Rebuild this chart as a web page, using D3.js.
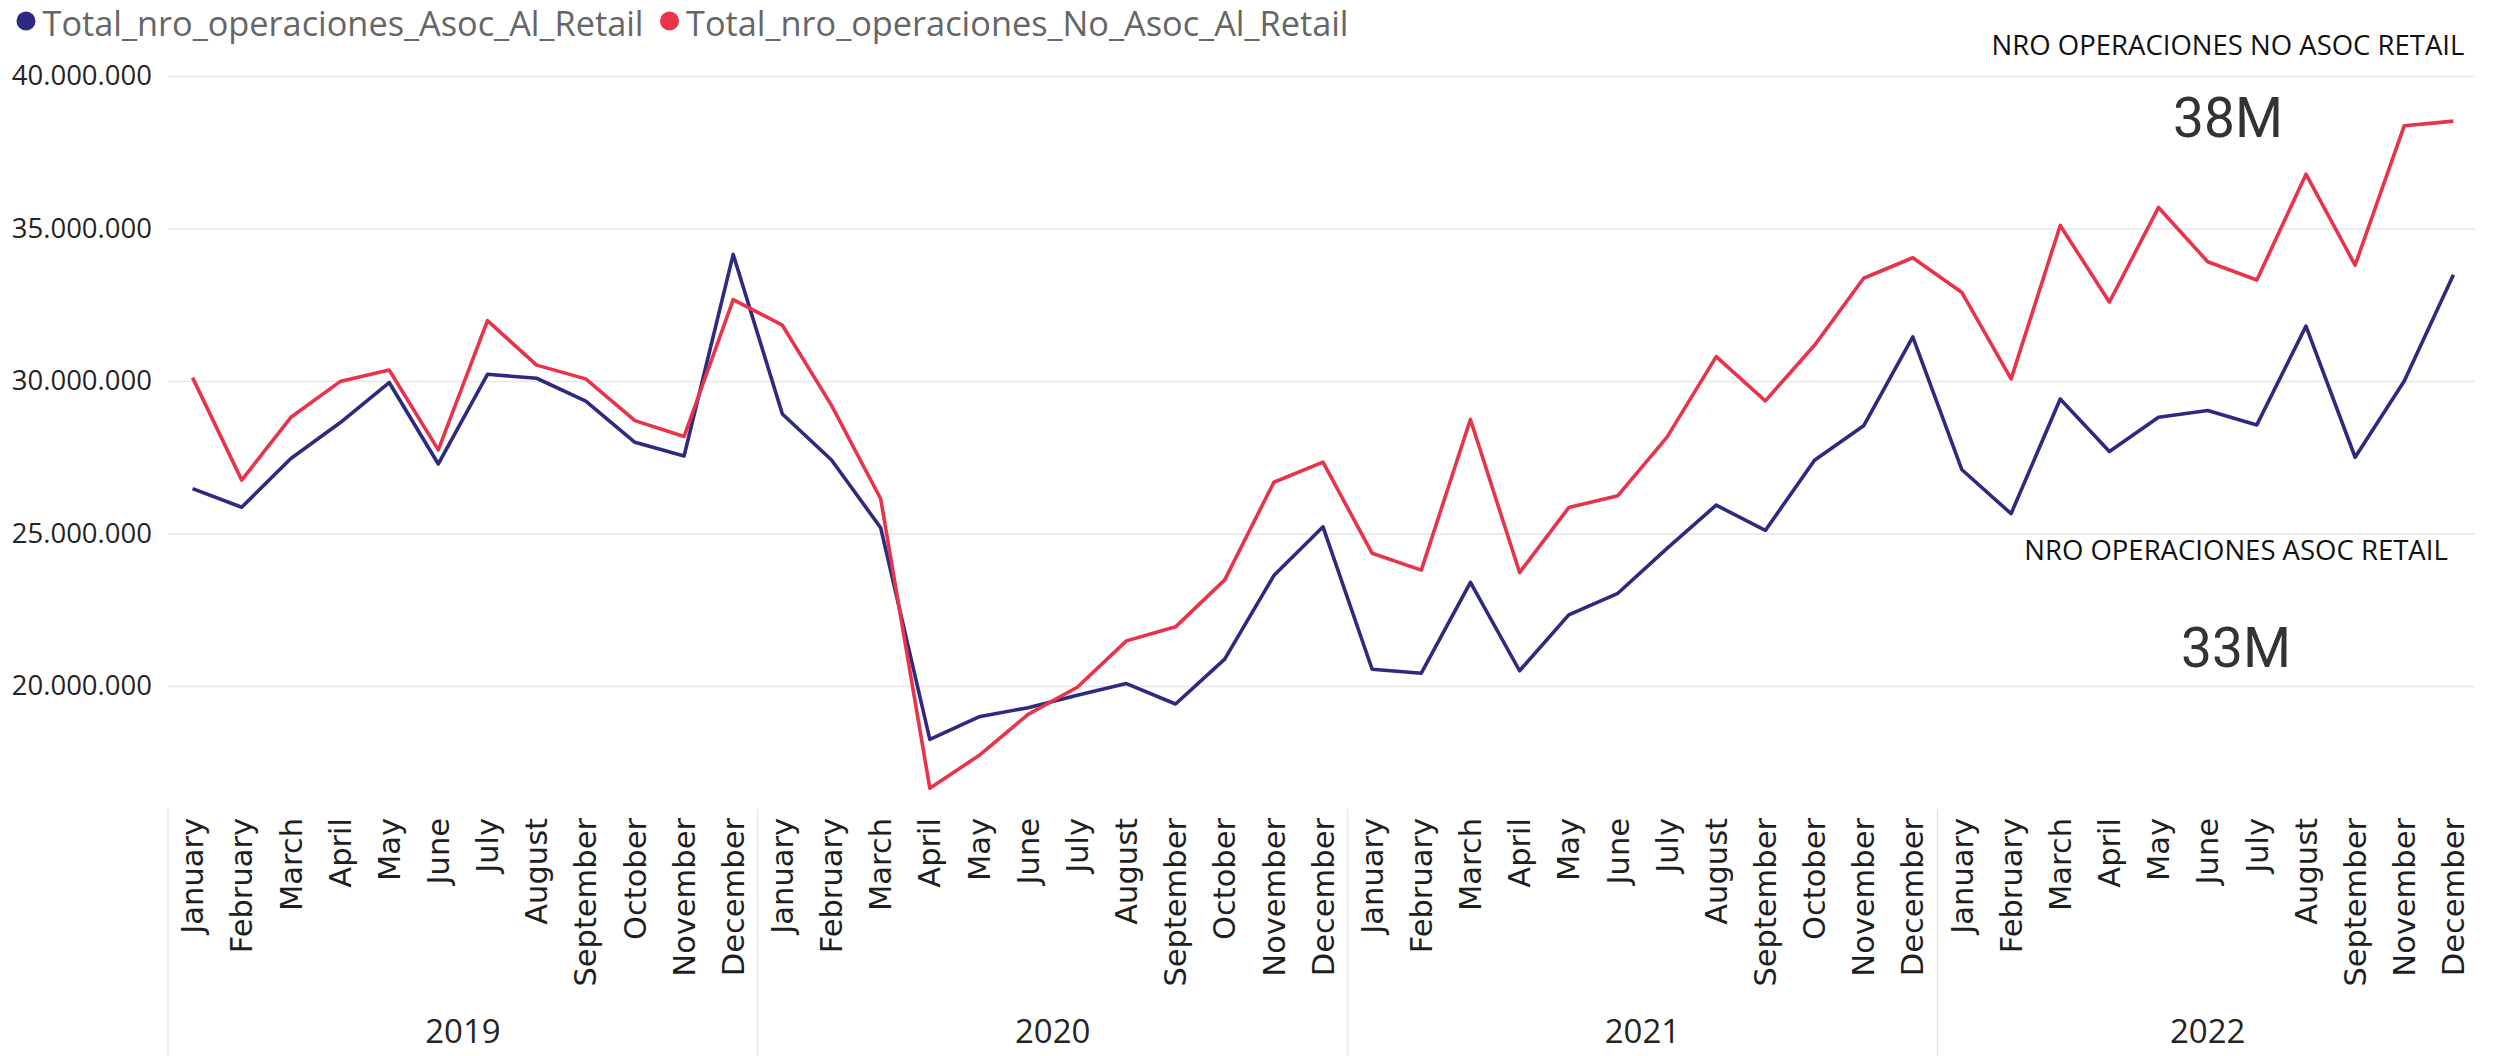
<!DOCTYPE html>
<html>
<head>
<meta charset="utf-8">
<script src="https://cdn.jsdelivr.net/npm/d3@7"></script>
<style>
  body { margin: 0; background: #fff; }
  #chart { display: block; }
</style>
</head>
<body>
<div id="chart"></div>
<script>
// ---- data ----
const years = ["2019", "2020", "2021", "2022"];
const monthNames = ["January", "February", "March", "April", "May", "June",
  "July", "August", "September", "October", "November", "December"];
// October 2022 is not in the source data
const missingPeriods = ["2022-October"];

const asocRetail = [
  26470000, 25860000, 27460000, 28630000, 29950000, 27280000, 30220000, 30090000, 29340000, 27990000, 27540000, 34150000,
  28920000, 27410000, 25190000, 18250000, 18990000, 19290000, 19700000, 20080000, 19410000, 20880000, 23620000, 25220000,
  20550000, 20420000, 23400000, 20500000, 22330000, 23040000, 24510000, 25930000, 25100000, 27400000, 28530000, 31450000,
  27090000, 25650000, 29410000, 27690000, 28810000, 29030000, 28560000, 31800000, 27500000, 30000000, 33480000
];
const noAsocRetail = [
  30110000, 26750000, 28810000, 29980000, 30360000, 27740000, 31980000, 30520000, 30070000, 28700000, 28180000, 32670000,
  31830000, 29200000, 26140000, 16650000, 17720000, 19070000, 19960000, 21480000, 21940000, 23480000, 26680000, 27340000,
  24350000, 23800000, 28740000, 23720000, 25850000, 26240000, 28160000, 30800000, 29350000, 31170000, 33370000, 34040000,
  32900000, 30070000, 35100000, 32590000, 35690000, 33910000, 33310000, 36780000, 33800000, 38370000, 38520000
];
const yTicks = [20000000, 25000000, 30000000, 35000000, 40000000];
const legendLabels = ["Total_nro_operaciones_Asoc_Al_Retail", "Total_nro_operaciones_No_Asoc_Al_Retail"];
const cardTitles = ["NRO OPERACIONES NO ASOC RETAIL", "NRO OPERACIONES ASOC RETAIL"];
const cardValues = ["38M", "33M"];

const colors = ["#2d2a80", "#e8334a"];

// category table built from the arrays above
const periods = years.flatMap(y => monthNames.map(m => ({ year: y, month: m, key: y + "-" + m })))
  .filter(p => !missingPeriods.includes(p.key));
const series = [asocRetail, noAsocRetail].map(vals => periods.map((p, i) => ({ key: p.key, value: vals[i] })));

const width = 2503, height = 1056;
const plot = { left: 168, right: 2478, top: 76, bottom: 808 };

const svg = d3.select("#chart").append("svg")
  .attr("width", width)
  .attr("height", height)
  .attr("viewBox", `0 0 ${width} ${height}`);

const x = d3.scaleBand()
  .domain(periods.map(p => p.key))
  .range([plot.left, plot.right])
  .padding(0);

const y = d3.scaleLinear()
  .domain([16000000, 40000000])
  .range([plot.bottom, plot.top]);

const fmt = d3.formatLocale({ decimal: ",", thousands: ".", grouping: [3], currency: ["", ""] }).format(",d");

// gridlines + y labels
const yAxis = svg.append("g")
  .attr("transform", `translate(${plot.left},0)`)
  .call(d3.axisLeft(y).tickValues(yTicks).tickSize(-(2475 - plot.left)).tickPadding(16).tickFormat(fmt));
yAxis.select(".domain").remove();
yAxis.selectAll(".tick line").attr("stroke", "#e6e6e6").attr("stroke-width", 1.5);
yAxis.selectAll(".tick text")
  .attr("fill", "#252423")
  .style("font-family", "'Open Sans', sans-serif")
  .style("font-size", "27.5px");

// lines
const line = d3.line()
  .x(d => x(d.key) + x.bandwidth() / 2)
  .y(d => y(d.value));

svg.append("g")
  .selectAll("path")
  .data(series)
  .join("path")
  .attr("d", line)
  .attr("fill", "none")
  .attr("stroke", (d, i) => colors[i])
  .attr("stroke-width", 3.6)
  .attr("stroke-linejoin", "round");

// month labels (rotated)
svg.append("g")
  .selectAll("text")
  .data(periods)
  .join("text")
  .attr("transform", d => `translate(${x(d.key) + x.bandwidth() / 2},818) rotate(-90)`)
  .attr("dy", "0.35em")
  .attr("text-anchor", "end")
  .attr("fill", "#1f1f1f")
  .style("font-family", "'DejaVu Sans', sans-serif")
  .style("font-size", "30.5px")
  .text(d => d.month);

// year groups: separators and labels
const yearGroups = years.map(yr => {
  const keys = periods.filter(p => p.year === yr).map(p => p.key);
  const x0 = x(keys[0]);
  const x1 = x(keys[keys.length - 1]) + x.bandwidth();
  return { year: yr, x0, x1 };
});

svg.append("g")
  .selectAll("line")
  .data(yearGroups)
  .join("line")
  .attr("x1", d => d.x0)
  .attr("x2", d => d.x0)
  .attr("y1", plot.bottom + 1)
  .attr("y2", height)
  .attr("stroke", "#e6e6e6")
  .attr("stroke-width", 1.5);

svg.append("g")
  .selectAll("text")
  .data(yearGroups)
  .join("text")
  .attr("x", d => (d.x0 + d.x1) / 2)
  .attr("y", 1043)
  .attr("text-anchor", "middle")
  .attr("fill", "#252423")
  .style("font-family", "'Open Sans', sans-serif")
  .style("font-size", "33px")
  .text(d => d.year);

// legend
const legend = svg.append("g");
let lx = 26;
legendLabels.forEach((label, i) => {
  legend.append("circle")
    .attr("cx", lx)
    .attr("cy", 21)
    .attr("r", 9.5)
    .attr("fill", colors[i]);
  const t = legend.append("text")
    .attr("x", lx + 16.5)
    .attr("y", 35.5)
    .attr("fill", "#666")
    .style("font-family", "'Open Sans', sans-serif")
    .style("font-size", "34.3px")
    .text(label);
  lx = lx + 16.5 + t.node().getComputedTextLength() + 26;
});

// cards on the right
const cards = [
  { title: cardTitles[0], value: cardValues[0], cx: 2228, titleY: 55, valueY: 137 },
  { title: cardTitles[1], value: cardValues[1], cx: 2236, titleY: 560, valueY: 667 }
];
const card = svg.append("g").selectAll("g").data(cards).join("g");
card.append("text")
  .attr("x", d => d.cx)
  .attr("y", d => d.titleY)
  .attr("text-anchor", "middle")
  .attr("fill", "#111")
  .style("font-family", "'Open Sans', sans-serif")
  .style("font-size", "27.5px")
  .text(d => d.title);
card.append("text")
  .attr("x", d => d.cx)
  .attr("y", d => d.valueY)
  .attr("text-anchor", "middle")
  .attr("fill", "#333")
  .style("font-family", "Roboto, sans-serif")
  .style("font-size", "55px")
  .text(d => d.value);
</script>
</body>
</html>
